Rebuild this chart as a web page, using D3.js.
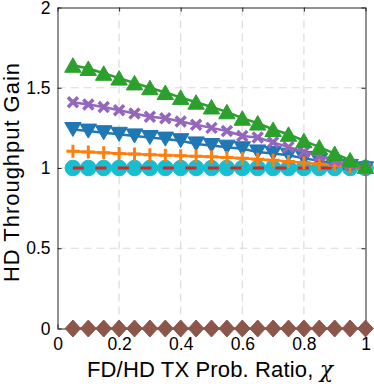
<!DOCTYPE html>
<html>
<head>
<meta charset="utf-8">
<script src="https://cdn.jsdelivr.net/npm/d3@7"></script>
<style>
  body { margin: 0; background: #fff; }
  text { font-family: "Liberation Sans", Arial, Helvetica, sans-serif; fill: #000; }
</style>
</head>
<body>
<svg id="chart" width="374" height="384"></svg>
<script>
// x positions of the markers (FD/HD TX prob. ratio)
const chi = [0.05, 0.10, 0.15, 0.20, 0.25, 0.30, 0.35, 0.40, 0.45, 0.50,
             0.55, 0.60, 0.65, 0.70, 0.75, 0.80, 0.85, 0.90, 0.95, 1.00];

const greenUp = [1.64, 1.62, 1.59, 1.56, 1.53, 1.50, 1.47, 1.44, 1.41, 1.38,
                 1.35, 1.31, 1.28, 1.24, 1.21, 1.17, 1.13, 1.09, 1.05, 1.01];
const purpleX = [1.41, 1.395, 1.38, 1.36, 1.34, 1.32, 1.31, 1.29, 1.27, 1.25,
                 1.23, 1.20, 1.19, 1.16, 1.13, 1.10, 1.075, 1.045, 1.02, 1.00];
const blueDown = [1.24, 1.23, 1.22, 1.21, 1.20, 1.19, 1.18, 1.17, 1.15, 1.14,
                  1.13, 1.12, 1.10, 1.09, 1.08, 1.06, 1.045, 1.025, 1.01, 0.995];
const orangePlus = [1.105, 1.10, 1.095, 1.09, 1.087, 1.083, 1.08, 1.077, 1.073, 1.07,
                    1.065, 1.06, 1.055, 1.048, 1.04, 1.033, 1.025, 1.017, 1.008, 1.00];
const cyanCircle = [1, 1, 1, 1, 1, 1, 1, 1, 1, 1, 1, 1, 1, 1, 1, 1, 1, 1, 1, 1];
const redDash = [1, 1, 1, 1, 1, 1, 1, 1, 1, 1, 1, 1, 1, 1, 1, 1, 1, 1, 1, 1];
const brownDiamond = [0, 0, 0, 0, 0, 0, 0, 0, 0, 0, 0, 0, 0, 0, 0, 0, 0, 0, 0, 0];

const xTicks = [0, 0.2, 0.4, 0.6, 0.8, 1];
const yTicks = [0, 0.5, 1, 1.5, 2];

const svg = d3.select("#chart");
const mLeft = 57.5, mRight = 365.5, mTop = 7.5, mBottom = 328.5;

const x = d3.scaleLinear().domain([0, 1]).range([mLeft, mRight]);
const y = d3.scaleLinear().domain([0, 2]).range([mBottom, mTop]);

// grid
const grid = svg.append("g");
grid.selectAll("line.gx")
    .data(xTicks.slice(1, -1))
    .enter().append("line")
    .attr("x1", d => x(d)).attr("x2", d => x(d))
    .attr("y1", mTop).attr("y2", mBottom)
    .style("stroke", "#dcdcdc").style("stroke-width", 1.2)
    .style("stroke-dasharray", "8,5");
grid.selectAll("line.gy")
    .data(yTicks.slice(1, -1))
    .enter().append("line")
    .attr("x1", mLeft).attr("x2", mRight)
    .attr("y1", d => y(d)).attr("y2", d => y(d))
    .style("stroke", "#dcdcdc").style("stroke-width", 1.2)
    .style("stroke-dasharray", "8,5");

// axes (box with inner ticks)
svg.append("g").attr("transform", `translate(0,${mBottom})`)
    .call(d3.axisBottom(x).tickValues(xTicks).tickSizeInner(-4).tickSizeOuter(0)
        .tickPadding(9).tickFormat(d3.format("")));
svg.append("g").attr("transform", `translate(${mLeft},0)`)
    .call(d3.axisLeft(y).tickValues(yTicks).tickSizeInner(-4).tickSizeOuter(0)
        .tickPadding(7).tickFormat(d3.format("")));
svg.append("g").attr("transform", `translate(0,${mTop})`)
    .call(d3.axisTop(x).tickValues(xTicks).tickSizeInner(-4).tickSizeOuter(0).tickFormat(""));
svg.append("g").attr("transform", `translate(${mRight},0)`)
    .call(d3.axisRight(y).tickValues(yTicks).tickSizeInner(-4).tickSizeOuter(0).tickFormat(""));

svg.selectAll(".domain, .tick line").style("stroke", "#262626").style("stroke-width", 1);
svg.selectAll(".tick text").style("font-size", "17.5px").style("fill", "#000")
    .style("font-family", "Liberation Sans, Arial, sans-serif");

// axis labels
svg.append("text")
    .attr("x", 210).attr("y", 377)
    .attr("text-anchor", "middle")
    .attr("textLength", 246)
    .attr("lengthAdjust", "spacing")
    .style("font-size", "22px")
    .html('FD/HD TX Prob. Ratio, <tspan style="font-family: \'DejaVu Serif\', serif; font-style: italic">χ</tspan>');

svg.append("text")
    .attr("transform", "translate(18.5,172.5) rotate(-90)")
    .attr("text-anchor", "middle")
    .attr("textLength", 219)
    .attr("lengthAdjust", "spacing")
    .style("font-size", "22px")
    .text("HD Throughput Gain");

const plot = svg.append("g");
const lineGen = d3.line().x(d => x(d[0])).y(d => y(d[1]));
const pts = vals => chi.map((c, i) => [c, vals[i]]);

function drawLine(vals, color, width, dash) {
    plot.append("path")
        .datum(pts(vals))
        .attr("d", lineGen)
        .style("fill", "none")
        .style("stroke", color)
        .style("stroke-width", width)
        .style("stroke-dasharray", dash || null);
}

function drawMarkers(vals, color, pathFn, strokeOnly, sw) {
    plot.append("g")
        .selectAll("path")
        .data(pts(vals))
        .enter().append("path")
        .attr("transform", d => `translate(${x(d[0])},${y(d[1])})`)
        .attr("d", pathFn)
        .style("fill", strokeOnly ? "none" : color)
        .style("stroke", color)
        .style("stroke-width", sw || 1)
        .style("stroke-linecap", "butt");
}

const circle = () => "M7.8,0A7.8,7.8 0 1,1 -7.8,0A7.8,7.8 0 1,1 7.8,0Z";
const diamond = () => "M0,-8.5L7.8,0L0,8.5L-7.8,0Z";
const triUp = () => "M0,-7.5L8.2,7L-8.2,7Z";
const triDown = () => "M0,7L8.2,-7L-8.2,-7Z";
const plus = () => "M-6.5,0H6.5M0,-6.5V6.5";
const cross = () => "M-5,-5L5,5M-5,5L5,-5";

// brown diamonds
drawLine(brownDiamond, "#8c564b", 2.5);
drawMarkers(brownDiamond, "#8c564b", diamond);
// cyan circles
drawLine(cyanCircle, "#17becf", 2.5);
drawMarkers(cyanCircle, "#17becf", circle);
// red dashed
drawLine(redDash, "#d62728", 3, "11,11.5");
// blue down triangles
drawLine(blueDown, "#1f77b4", 2.5);
drawMarkers(blueDown, "#1f77b4", triDown);
// orange plus
drawLine(orangePlus, "#ff7f0e", 2.5);
drawMarkers(orangePlus, "#ff7f0e", plus, true, 3);
// purple crosses
drawLine(purpleX, "#9467bd", 2.5);
drawMarkers(purpleX, "#9467bd", cross, true, 3.5);
// green up triangles
drawLine(greenUp, "#2ca02c", 2.5);
drawMarkers(greenUp, "#2ca02c", triUp);
</script>
</body>
</html>
